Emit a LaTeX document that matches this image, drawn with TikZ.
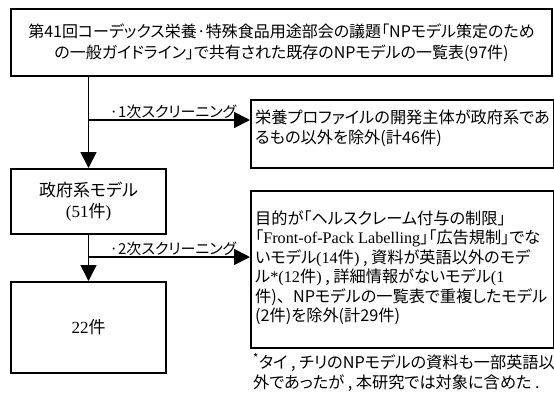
\documentclass[tikz,border=0pt]{standalone}
\usepackage{fontspec}
\setmainfont{Noto Sans CJK JP}[RawFeature={+palt}]
\newfontfamily\ser{Liberation Serif}
\newfontfamily\jpfull{Noto Sans CJK JP}
\usetikzlibrary{arrows.meta}
\tikzset{
  boxst/.style={draw=black, line width=2pt, fill=white, rectangle, inner sep=0pt, anchor=north west},
  txt/.style={inner sep=0pt, font=\fontsize{16.2}{19.5}\selectfont, align=left, anchor=north west},
  ln/.style={inner sep=0pt, font=\fontsize{16.2}{19.5}\selectfont, anchor=base west},
  lbl/.style={inner sep=1pt, font=\fontsize{15}{16}\selectfont, anchor=south},
  arr/.style={line width=1.7pt, -{Triangle[length=16pt,width=16pt]}},
}
\begin{document}
\begin{tikzpicture}[x=1pt,y=-1pt]
\useasboundingbox (0,0) rectangle (554,397);
% boxes
\node[boxst, minimum width=541pt, minimum height=67pt] (top) at (10,8) {};
\node[boxst, minimum width=155pt, minimum height=65pt] (gov) at (10,168) {};
\node[boxst, minimum width=155pt, minimum height=91pt] (fin) at (10,281) {};
\node[boxst, minimum width=303pt, minimum height=68pt] (ex1) at (250,99) {};
\node[boxst, minimum width=303pt, minimum height=157pt] (ex2) at (250,190) {};
% texts
\node[inner sep=0pt, font=\fontsize{16}{21.5}\selectfont, align=center] (toptxt) at (top.center)
  {第41回コーデックス栄養·特殊食品用途部会の議題「NPモデル策定のため\\の一般ガイドライン」で共有された既存のNPモデルの一覧表(97件)};
\node[inner sep=0pt, font=\fontsize{17}{21}\selectfont, align=center] (govtxt) at (gov.center)
  {政府系モデル\\{\ser (51}件{\ser )}};
\node[inner sep=0pt, font=\fontsize{17}{19}\selectfont] (fintxt) at (fin.center) {{\ser 22}件};
\node[txt] (ex1txt) at (255,110)
  {栄養プロファイルの開発主体が政府系であ\\るもの以外を除外(計46件)};
\node[ln] (e2a) at (255,224) {目的が「ヘルスクレーム付与の制限」};
\node[ln] (e2b) at (255,243.5) {「{\ser Front-of-Pack Labelling}」「広告規制」でな};
\node[ln] (e2c) at (255,263) {いモデル{\ser (14}件{\ser )}\ , 資料が英語以外のモデ};
\node[ln] (e2d) at (255,282.5) {ル{\ser *(12}件{\ser )}\ , 詳細情報がないモデル{\ser (1}};
\node[ln] (e2e) at (255,302) {件){\jpfull 、}NPモデルの一覧表で重複したモデル};
\node[ln] (e2f) at (255,321.5) {(2件)を除外(計29件)};
\node[txt, font=\fontsize{16.2}{20}\selectfont] (note) at (253,353)
  {\textsuperscript{*}タイ , チリのNPモデルの資料も一部英語以\\外であったが , 本研究では対象に含めた .};
% connectors
\coordinate (b1) at (87.5,120);
\coordinate (b2) at (87.5,257);
\draw[arr] (gov.north |- top.south) -- (gov.north);
\draw[arr] (b1) -- (ex1.west |- b1);
\draw[arr] (gov.south) -- (fin.north);
\draw[arr] (b2) -- (ex2.west |- b2);
\node[lbl] (l1) at (173,120) {·1次スクリーニング};
\node[lbl] (l2) at (173,257) {·2次スクリーニング};
\end{tikzpicture}
\end{document}
